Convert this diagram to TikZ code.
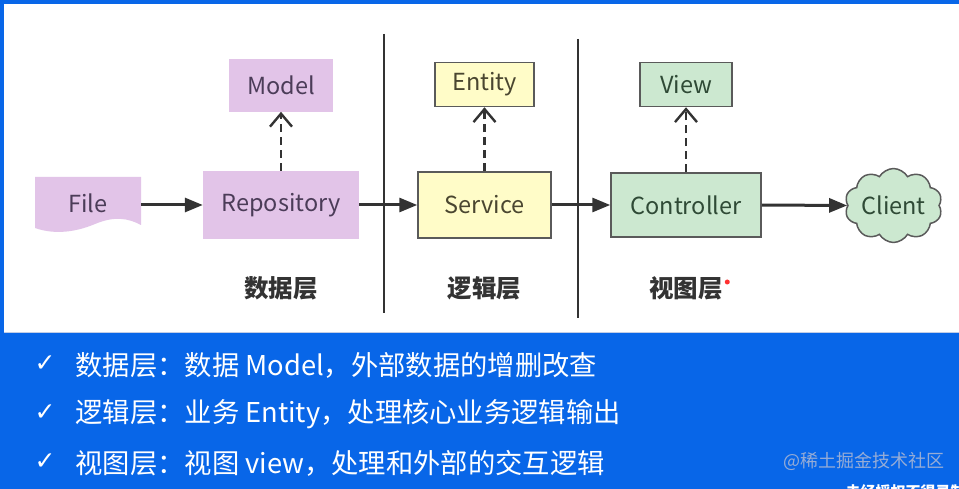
\documentclass[tikz,border=0pt]{standalone}
\usepackage{fontspec}
\setmainfont{Noto Sans CJK SC}
\newfontfamily\symfont{DejaVu Sans}
\usepackage{tikz}
\definecolor{frameBlue}{RGB}{8,102,232}
\definecolor{dataPurple}{RGB}{226,196,232}
\definecolor{dataText}{RGB}{75,60,88}
\definecolor{logicYellow}{RGB}{255,252,200}
\definecolor{logicText}{RGB}{74,70,48}
\definecolor{viewGreen}{RGB}{204,232,208}
\definecolor{viewText}{RGB}{47,74,54}
\definecolor{edgeGray}{RGB}{90,90,90}
\definecolor{lineDark}{RGB}{51,51,51}
\definecolor{markGray}{RGB}{150,172,214}
\usetikzlibrary{arrows.meta, positioning, shapes.symbols}

\begin{document}
\begin{tikzpicture}[
    x=1pt, y=-1pt,
    box/.style={rectangle, inner sep=0pt, font=\fontsize{23.5}{27}\selectfont},
    databox/.style={box, fill=dataPurple, text=dataText},
    logicbox/.style={box, fill=logicYellow, draw=edgeGray, line width=1.5pt, text=logicText},
    viewbox/.style={box, fill=viewGreen, draw=edgeGray, line width=1.5pt, text=viewText},
    flow/.style={draw=lineDark, line width=3pt, -{Triangle[length=18pt,width=14pt]}},
    uses/.style={draw=lineDark, line width=2.4pt, dash pattern=on 8pt off 5pt,
        -{Straight Barb[length=13pt,width=22pt,line width=2.4pt]}},
    layer/.style={font=\fontsize{24.5}{28}\selectfont\bfseries, text=lineDark},
    point/.style={anchor=west, text=white, font=\fontsize{27.3}{31}\selectfont},
    tick/.style={anchor=west, text=white, font=\symfont\fontsize{25}{28}\selectfont}
]
    \useasboundingbox (0,0) rectangle (959,489);
    \fill[white] (0,0) rectangle (959,489);
    \fill[frameBlue] (0,0) rectangle (959,4);
    \fill[frameBlue] (0,0) rectangle (4,333);
    \fill[frameBlue] (0,333) rectangle (959,489);
    \draw[markGray!60, line width=1pt] (4,332.5) -- (959,332.5);

    % layer separators
    \draw[lineDark, line width=2.2pt] (384,34) -- (384,313);
    \draw[lineDark, line width=2.2pt] (578,39) -- (578,318);

    % data layer
    \fill[dataPurple] (35,177) -- (141,177) -- (141,225)
        .. controls (128,218) and (114,216) .. (95,224)
        .. controls (76,232) and (55,235) .. (35,228) -- cycle;
    \node[box, text=dataText, minimum width=106pt, minimum height=52pt] (file) at (88,203) {File};
    \node[databox, minimum width=156pt, minimum height=68pt] (repo) at (281,205) {Repository};
    \node[databox, minimum width=104pt, minimum height=53pt, above=59pt of repo] (model) {Model};

    % logic layer
    \node[logicbox, minimum width=133pt, minimum height=66pt] (service) at (484.5,205) {Service};
    \node[logicbox, minimum width=99pt, minimum height=44pt, above=64pt of service] (entity) {Entity};

    % view layer
    \node[viewbox, minimum width=150pt, minimum height=64pt] (ctrl) at (686,205) {Controller};
    \node[viewbox, minimum width=92pt, minimum height=44pt, above=65pt of ctrl] (view) {View};
    \node[viewbox, cloud, cloud puffs=10, cloud puff arc=120, aspect=1.5, minimum width=97pt, minimum height=67pt] (client) at (893.5,205.5) {Client};

    \draw[flow] (file.east |- repo.west) -- (repo.west);
    \draw[flow] (repo.east) -- (service.west);
    \draw[flow] (service.east) -- (ctrl.west);
    \draw[flow] (ctrl.east) -- (client.west);
    \draw[uses] (repo.north) -- (model.south);
    \draw[uses] (service.north) -- (entity.south);
    \draw[uses] (ctrl.north) -- (view.south);

    \node[layer] (datalabel) at (281,288) {数据层};
    \node[layer] (logiclabel) at (484.5,288) {逻辑层};
    \node[layer] (viewlabel) at (686,288) {视图层};
    \fill[red!75!pink] (viewlabel.east) ++(1,-6) circle (2.5pt);

    % summary
    \node[tick] (c1) at (31,364) {✓};
    \node[point] (l1) at (72,365) {数据层：数据 Model，外部数据的增删改查};
    \node[tick] (c2) at (31,413) {✓};
    \node[point] (l2) at (72,414) {逻辑层：业务 Entity，处理核心业务逻辑输出};
    \node[tick] (c3) at (31,462) {✓};
    \node[point] (l3) at (72,463) {视图层：视图 view，处理和外部的交互逻辑};

    \node[anchor=west, text=markGray, font=\fontsize{18}{22}\selectfont] (mark) at (780,461) {@稀土掘金技术社区};
    \node[anchor=west, text=white, font=\fontsize{15}{18}\selectfont\bfseries] (notice) at (842,492) {未经授权不得录制};
\end{tikzpicture}
\end{document}
